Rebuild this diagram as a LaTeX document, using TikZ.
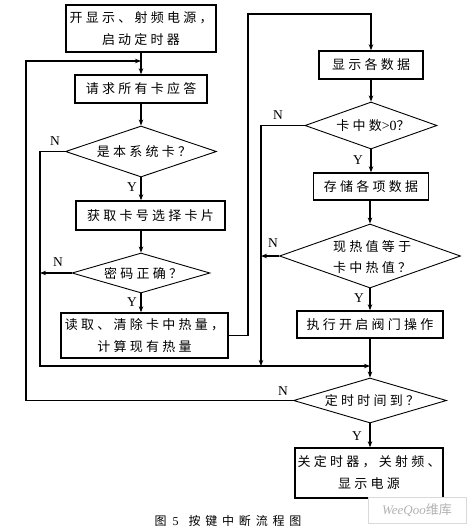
\documentclass[tikz,border=0pt]{standalone}
\usepackage{fontspec}
\setmainfont{Liberation Serif}
\newfontfamily\cjk[LetterSpace=25]{Noto Sans CJK SC}
\newfontfamily\cjkcap[LetterSpace=40]{Noto Sans CJK SC}
\usetikzlibrary{arrows.meta,shapes.geometric}
\tikzset{
  box/.style={draw, line width=1.4pt, rectangle, inner sep=0pt, align=center,
              font=\cjk\fontsize{13}{22}\selectfont},
  dia/.style={draw, line width=0.9pt, diamond, inner sep=0pt},
  dtxt/.style={inner sep=0pt, align=center, font=\cjk\fontsize{13}{21}\selectfont},
  arr/.style={-{Stealth[length=6pt,width=4.5pt]}, line width=1.3pt},
  yn/.style={inner sep=0pt, font=\fontsize{13.5}{13.5}\selectfont},
}
\begin{document}
\begin{tikzpicture}[x=1pt,y=-1pt]
\useasboundingbox (0,0) rectangle (472,530);
% left column
\node[box, minimum width=150pt, minimum height=47pt] (b1) at (141,28.5) {开显示、射频电源，\\启动定时器};
\node[box, minimum width=132pt, minimum height=28pt] (b2) at (141,89) {请求所有卡应答};
\node[dia, minimum width=151pt, minimum height=51pt] (d1) at (141,151.5) {};
\node[dtxt] (d1t) at (144,152) {是本系统卡？};
\node[box, minimum width=149pt, minimum height=29pt] (b3) at (150.5,215.5) {获取卡号选择卡片};
\node[dia, minimum width=138pt, minimum height=40pt] (d2) at (141,273) {};
\node[dtxt] (d2t) at (143,273.5) {密码正确？};
\node[box, minimum width=167pt, minimum height=45pt] (b4) at (144.5,335.5) {读取、清除卡中热量，\\计算现有热量};
% right column
\node[box, minimum width=104pt, minimum height=28pt] (b5) at (371,65) {显示各数据};
\node[dia, minimum width=132pt, minimum height=47pt] (d3) at (371,125.5) {};
\node[dtxt] (d3t) at (373,126) {卡中数{\rmfamily\fontsize{14}{14}\selectfont >0}？};
\node[box, minimum width=115pt, minimum height=27pt] (b6) at (371,186.5) {存储各项数据};
\node[dia, minimum width=181pt, minimum height=64pt] (d4) at (370,256) {};
\node[dtxt] (d4t) at (372,257) {现热值等于\\卡中热值？};
\node[box, minimum width=146pt, minimum height=27pt] (b7) at (370,324.5) {执行开启阀门操作};
\node[dia, minimum width=153pt, minimum height=45pt] (d5) at (370,400.5) {};
\node[dtxt] (d5t) at (372,401) {定时时间到？};
\node[box, minimum width=148pt, minimum height=50pt] (b8) at (369,473) {关定时器，关射频、\\显示电源};
% junctions
\coordinate (jL) at (40,366);
\coordinate (jM) at (261,366);
\coordinate (jR) at (370,366);
\coordinate (k1) at (248,14);
\coordinate (cL) at (26,61);
\coordinate (cR) at (141,61);
% connectors
\draw[arr] (b1.south) -- (b2.north);
\draw[arr] (b2.south) -- (d1.north);
\draw[arr] (d1.south) -- (d1.south |- b3.north);
\draw[arr] (d1.south |- b3.south) -- (d2.north);
\draw[arr] (d2.south) -- (d2.south |- b4.north);
\draw[arr] (d1.west) -| (jL) -- (jR);
\draw[arr] (d2.west) -- (d2.west -| jL);
\draw[arr] (b4.east) -| (k1) -- (k1 -| b5.north) -- (b5.north);
\draw[arr] (b5.south) -- (d3.north);
\draw[arr] (d3.south) -- (d3.south |- b6.north);
\draw[arr] (d3.west) -| (jM);
\draw[arr] (b6.south -| d4.north) -- (d4.north);
\draw[arr] (d4.west) -- (d4.west -| jM);
\draw[arr] (d4.south) -- (d4.south |- b7.north);
\draw[arr] (b7.south -| d5.north) -- (d5.north);
\draw[arr] (d5.west) -| (cL) -- (cR);
\draw[arr] (d5.south) -- (d5.south |- b8.north);
% Y / N labels
\node[yn] (y1) at (132,187) {Y};
\node[yn] (y2) at (132,302) {Y};
\node[yn] (y3) at (358,160) {Y};
\node[yn] (y4) at (359,298) {Y};
\node[yn] (y5) at (357,436) {Y};
\node[yn] (n1) at (55,141) {N};
\node[yn] (n2) at (58,262) {N};
\node[yn] (n3) at (278,115) {N};
\node[yn] (n4) at (273,243) {N};
\node[yn] (n5) at (283,391) {N};
% caption
\node[inner sep=0pt, font=\cjkcap\fontsize{12}{12}\selectfont] (cap) at (228,521)
  {图\hspace{6pt}{\rmfamily 5}\hspace{10pt}按键中断流程图};
% watermark
\node[draw=black!15, fill=white, minimum width=98pt, minimum height=26pt, inner sep=0pt,
      text=black!30, font=\fontsize{13}{13}\selectfont\itshape] (wm) at (417,510)
      {WeeQoo{\upshape\cjk\addfontfeature{LetterSpace=0}维库}};
\end{tikzpicture}
\end{document}
